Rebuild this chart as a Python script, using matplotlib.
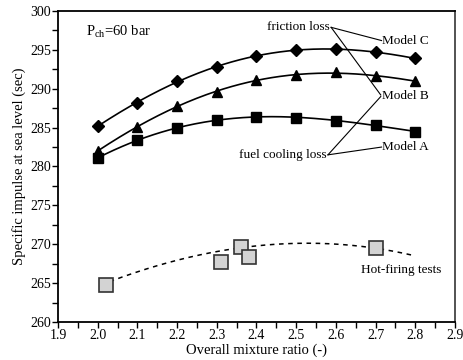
import numpy as np
import matplotlib
matplotlib.use("Agg")
import matplotlib.pyplot as plt
from matplotlib.ticker import MultipleLocator

plt.rcParams['font.family'] = ['Liberation Serif', 'DejaVu Serif']
plt.rcParams['mathtext.fontset'] = 'custom'
plt.rcParams['mathtext.rm'] = 'Liberation Serif'

mixture_ratio = [2.0, 2.1, 2.2, 2.3, 2.4, 2.5, 2.6, 2.7, 2.8]
model_a = [281.1, 283.4, 284.9, 286.0, 286.4, 286.3, 285.9, 285.3, 284.5]
model_b = [282.0, 285.1, 287.8, 289.6, 291.1, 291.8, 292.1, 291.6, 291.0]
model_c = [285.2, 288.2, 291.0, 292.8, 294.2, 295.0, 295.1, 294.7, 293.9]

test_ratio = [2.02, 2.31, 2.36, 2.38, 2.70]
test_isp = [264.8, 267.7, 269.6, 268.4, 269.5]

trend_ratio = [2.03, 2.2, 2.3, 2.4, 2.5, 2.6, 2.7, 2.8]
trend_isp = [265.2, 267.9, 269.1, 269.8, 270.1, 270.0, 269.5, 268.5]

fig = plt.figure(figsize=(4.64, 3.6), dpi=100)
ax = fig.add_axes([0.125, 0.1056, 0.8556, 0.8638])

def smooth(x, y, deg=3):
    x = np.asarray(x); y = np.asarray(y)
    p = np.polyfit(x, y, deg)
    xs = np.linspace(x.min(), x.max(), 200)
    return xs, np.polyval(p, xs)

for ys, mk, ms in [(model_c, 'D', 6), (model_b, '^', 7), (model_a, 's', 6.5)]:
    xs, yv = smooth(mixture_ratio, ys, 4)
    ax.plot(xs, yv, color='black', lw=1.2, zorder=2)
    ax.plot(mixture_ratio, ys, linestyle='none', marker=mk, ms=ms,
            color='black', zorder=3)

xs, yv = smooth(trend_ratio, trend_isp, 3)
ax.plot(xs, yv, color='black', lw=1.1, ls=(0, (3, 3)), zorder=2)
ax.plot(test_ratio, test_isp, linestyle='none', marker='s', ms=10,
        markerfacecolor='#d3d3d3', markeredgecolor='#333333', mew=1.2, zorder=4)

ax.set_xlim(1.9, 2.9)
ax.set_ylim(260, 300)
ax.xaxis.set_major_locator(MultipleLocator(0.1))
ax.xaxis.set_minor_locator(MultipleLocator(0.05))
ax.yaxis.set_major_locator(MultipleLocator(5))
ax.yaxis.set_minor_locator(MultipleLocator(2.5))
ax.tick_params(which='major', direction='out', length=4, width=1, labelsize=10, pad=1)
ax.tick_params(which='minor', direction='out', length=4, width=1)
ax.xaxis.set_major_formatter(matplotlib.ticker.FormatStrFormatter('%.1f'))
for s in ax.spines.values():
    s.set_linewidth(1.3)
ax.spines['right'].set_color('#444444')

ax.set_xlabel('Overall mixture ratio (-)', fontsize=10.5, labelpad=1)
ax.set_ylabel('Specific impulse at sea level (sec)', fontsize=10.5, labelpad=3)

ax.text(1.97, 297.3, r'P$_{\mathrm{ch}}$=60 bar', fontsize=10.5, va='center')
ax.text(2.585, 298.0, 'friction loss', fontsize=9.5, ha='right', va='center')
ax.text(2.577, 281.5, 'fuel cooling loss', fontsize=9.5, ha='right', va='center')
ax.text(2.717, 296.1, 'Model C', fontsize=9.5, va='center')
ax.text(2.717, 289.1, 'Model B', fontsize=9.5, va='center')
ax.text(2.717, 282.5, 'Model A', fontsize=9.5, va='center')
ax.text(2.765, 266.7, 'Hot-firing tests', fontsize=9.5, ha='center', va='center')

lines = [((2.588, 297.9), (2.715, 296.2)), ((2.588, 297.9), (2.713, 289.2)),
         ((2.580, 281.5), (2.715, 282.5)), ((2.580, 281.5), (2.713, 289.0))]
for (x0, y0), (x1, y1) in lines:
    ax.plot([x0, x1], [y0, y1], color='black', lw=0.8, zorder=1)

fig.savefig('out.png', dpi=100)
